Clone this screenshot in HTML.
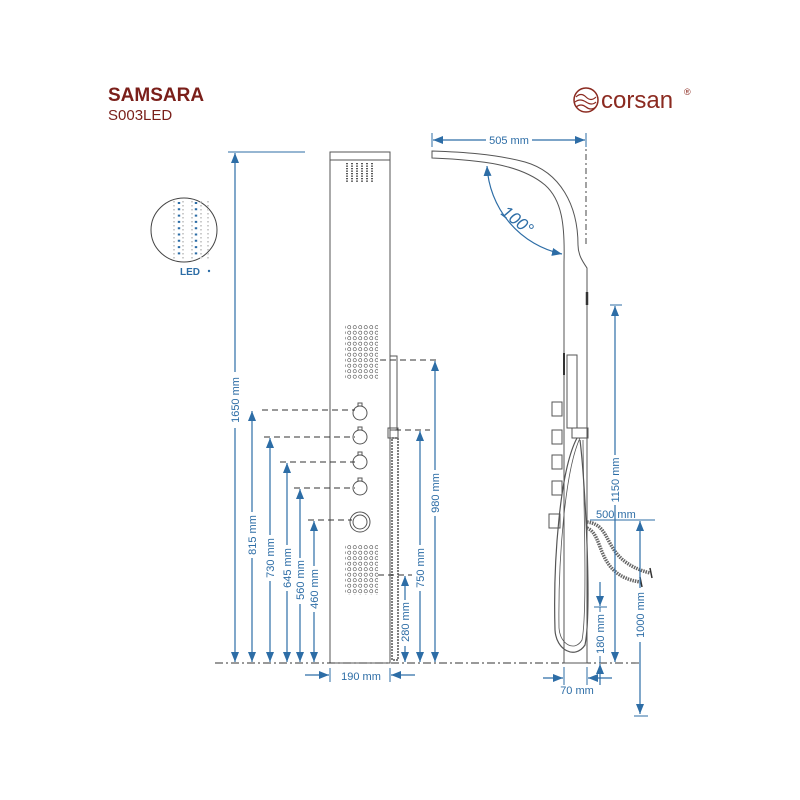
<!DOCTYPE html>
<html><head><meta charset="utf-8"><style>
html,body{margin:0;padding:0;background:#fff;width:800px;height:800px;overflow:hidden}
svg{display:block}
.b{fill:#2d6da6;font-family:"Liberation Sans",sans-serif;font-size:11px}
.dl{stroke:#2d6da6;stroke-width:1.2;fill:none}
.ln{stroke:#555;stroke-width:1;fill:none}
.ds{stroke:#333;stroke-width:0.9;stroke-dasharray:6 4;fill:none}
</style></head><body>
<svg width="800" height="800" viewBox="0 0 800 800" xmlns="http://www.w3.org/2000/svg">
<defs>
<marker id="a" viewBox="0 0 10 10" refX="10" refY="5" markerWidth="10" markerHeight="10" orient="auto-start-reverse" markerUnits="userSpaceOnUse"><path d="M0,1 L10,5 L0,9 z" fill="#2d6da6"/></marker>
<pattern id="dots" width="5.5" height="5.5" patternUnits="userSpaceOnUse"><circle cx="2.7" cy="2.7" r="1.6" fill="none" stroke="#555" stroke-width="0.6"/></pattern>
<pattern id="slots" width="5" height="2.5" patternUnits="userSpaceOnUse"><rect x="1" y="0.5" width="2" height="1.3" fill="#555"/></pattern>
</defs>

<!-- header -->
<text x="108" y="101" font-family="Liberation Sans,sans-serif" font-weight="bold" font-size="19" fill="#7a1f1a">SAMSARA</text>
<text x="108" y="120" font-family="Liberation Sans,sans-serif" font-size="15" fill="#7a1f1a">S003LED</text>
<circle cx="586" cy="100" r="12" fill="none" stroke="#8b2a20" stroke-width="1.5"/>
<path d="M576,97 q5,-5 10,0 t10,0 M575,102 q5,-4 11,0 t10,0 M576,107 q5,-4 10,0 t10,0" stroke="#8b2a20" stroke-width="1.2" fill="none"/>
<text x="601" y="108" font-family="Liberation Sans,sans-serif" font-size="24" fill="#8b2a20">corsan</text>
<text x="684" y="95" font-family="Liberation Sans,sans-serif" font-size="9" fill="#8b2a20">®</text>

<!-- LED circle -->
<ellipse cx="184" cy="230" rx="33" ry="32" fill="none" stroke="#444" stroke-width="1"/>
<g>
<path d="M174,201v58" stroke="#ccc" stroke-width="2" stroke-dasharray="1.5 2.5"/>
<path d="M183,201v58" stroke="#ccc" stroke-width="2" stroke-dasharray="1.5 2.5"/>
<path d="M192,201v58" stroke="#ccc" stroke-width="2" stroke-dasharray="1.5 2.5"/>
<path d="M201,201v58" stroke="#ccc" stroke-width="2" stroke-dasharray="1.5 2.5"/>
<path d="M208,201v58" stroke="#ccc" stroke-width="2" stroke-dasharray="1.5 2.5"/>
<path d="M179,202v56" stroke="#2d6da6" stroke-width="2.4" stroke-dasharray="2 4.3"/>
<path d="M196,202v56" stroke="#2d6da6" stroke-width="2.4" stroke-dasharray="2 4.3"/>
</g>
<text x="180" y="275" class="b" font-weight="bold" style="font-size:10px">LED</text>
<circle cx="209" cy="271" r="1.2" fill="#2d6da6"/>

<!-- front panel -->
<rect x="330" y="152" width="60" height="511" fill="#fff" stroke="#555" stroke-width="1"/>
<line x1="330" y1="160" x2="390" y2="160" class="ln"/>
<rect x="346" y="163" width="27" height="20" fill="url(#slots)"/>
<rect x="345" y="325" width="33" height="55" fill="url(#dots)"/>
<rect x="345" y="545" width="33" height="50" fill="url(#dots)"/>
<g class="ln">
<circle cx="360" cy="413" r="7"/><rect x="358" y="403" width="4" height="3"/>
<circle cx="360" cy="437" r="7"/><rect x="358" y="427" width="4" height="3"/>
<circle cx="360" cy="462" r="7"/><rect x="358" y="452" width="4" height="3"/>
<circle cx="360" cy="488" r="7"/><rect x="358" y="478" width="4" height="3"/>
<circle cx="360" cy="522" r="10"/><circle cx="360" cy="522" r="7"/>
</g>
<rect x="390" y="356" width="7" height="74" class="ln"/>
<rect x="388" y="428" width="10" height="10" class="ln"/>
<rect x="392" y="438" width="6" height="222" fill="none" stroke="#555" stroke-width="1.5" stroke-dasharray="2 1"/>

<!-- dashed guides front -->
<line x1="215" y1="663" x2="640" y2="663" stroke="#333" stroke-width="0.9" stroke-dasharray="8 3 2 3"/>
<line x1="228" y1="152" x2="305" y2="152" stroke="#2d6da6" stroke-width="1"/>
<line x1="262" y1="410" x2="355" y2="410" class="ds"/>
<line x1="264" y1="437" x2="355" y2="437" class="ds"/>
<line x1="280" y1="462" x2="355" y2="462" class="ds"/>
<line x1="294" y1="488" x2="355" y2="488" class="ds"/>
<line x1="308" y1="520" x2="352" y2="520" class="ds"/>
<line x1="380" y1="360" x2="440" y2="360" class="ds"/>
<line x1="395" y1="430" x2="430" y2="430" class="ds"/>
<line x1="378" y1="575" x2="412" y2="575" class="ds"/>

<!-- front dims -->
<line x1="235" y1="153" x2="235" y2="662" class="dl" marker-start="url(#a)" marker-end="url(#a)"/>
<line x1="252" y1="411" x2="252" y2="662" class="dl" marker-start="url(#a)" marker-end="url(#a)"/>
<line x1="270" y1="438" x2="270" y2="662" class="dl" marker-start="url(#a)" marker-end="url(#a)"/>
<line x1="287" y1="463" x2="287" y2="662" class="dl" marker-start="url(#a)" marker-end="url(#a)"/>
<line x1="300" y1="489" x2="300" y2="662" class="dl" marker-start="url(#a)" marker-end="url(#a)"/>
<line x1="314" y1="521" x2="314" y2="662" class="dl" marker-start="url(#a)" marker-end="url(#a)"/>
<line x1="405" y1="576" x2="405" y2="662" class="dl" marker-start="url(#a)" marker-end="url(#a)"/>
<line x1="420" y1="431" x2="420" y2="662" class="dl" marker-start="url(#a)" marker-end="url(#a)"/>
<line x1="435" y1="361" x2="435" y2="662" class="dl" marker-start="url(#a)" marker-end="url(#a)"/>
<g class="b" text-anchor="middle">
<rect x="229" y="372" width="12" height="56" fill="#fff"/><text transform="translate(239,400) rotate(-90)">1650 mm</text>
<rect x="246" y="512" width="12" height="46" fill="#fff"/><text transform="translate(256,535) rotate(-90)">815 mm</text>
<rect x="264" y="535" width="12" height="46" fill="#fff"/><text transform="translate(274,558) rotate(-90)">730 mm</text>
<rect x="281" y="545" width="12" height="46" fill="#fff"/><text transform="translate(291,568) rotate(-90)">645 mm</text>
<rect x="294" y="558" width="12" height="46" fill="#fff"/><text transform="translate(304,580) rotate(-90)">560 mm</text>
<rect x="308" y="566" width="12" height="46" fill="#fff"/><text transform="translate(318,589) rotate(-90)">460 mm</text>
<rect x="399" y="600" width="12" height="46" fill="#fff"/><text transform="translate(409,622) rotate(-90)">280 mm</text>
<rect x="414" y="545" width="12" height="46" fill="#fff"/><text transform="translate(424,568) rotate(-90)">750 mm</text>
<rect x="429" y="470" width="12" height="46" fill="#fff"/><text transform="translate(439,493) rotate(-90)">980 mm</text>
<text x="361" y="680">190 mm</text>
</g>
<line x1="305" y1="675" x2="329" y2="675" class="dl" marker-end="url(#a)"/>
<line x1="415" y1="675" x2="391" y2="675" class="dl" marker-end="url(#a)"/>
<line x1="330" y1="668" x2="330" y2="682" stroke="#2d6da6"/>
<line x1="390" y1="668" x2="390" y2="682" stroke="#2d6da6"/>

<!-- side view -->
<line x1="586" y1="140" x2="586" y2="245" stroke="#333" stroke-width="0.9" stroke-dasharray="6 3 2 3"/>
<path d="M432,151 L432,158 C480,160 520,164 545,185 C562,200 565,225 564,262 L564,663 L587,663 L587,268 C583,262 578,255 578,245 C578,205 560,172 525,162 C495,154 462,152 432,151 Z" fill="#fff" stroke="#555" stroke-width="1"/>
<line x1="587" y1="292" x2="587" y2="305" stroke="#333" stroke-width="2.5"/>
<g class="ln">
<rect x="552" y="402" width="10" height="14"/><rect x="552" y="430" width="10" height="14"/><rect x="552" y="455" width="10" height="14"/><rect x="552" y="481" width="10" height="14"/><rect x="549" y="514" width="11" height="14"/>
<rect x="567" y="355" width="10" height="73"/>
<rect x="572" y="428" width="16" height="10"/>
<path d="M577,438 C560,470 553,560 555,630 C556,650 575,660 585,645 C592,610 585,480 580,440" stroke-width="1.2"/>
<path d="M580,438 C565,470 558,560 559,628 C560,645 575,652 582,640 C588,610 583,480 583,440" stroke-width="0.8"/>
</g>
<line x1="564" y1="353" x2="564" y2="375" stroke="#333" stroke-width="2"/>
<path d="M587,522 C615,525 600,560 650,573" fill="none" stroke="#666" stroke-width="3.5" stroke-dasharray="1.5 1"/>
<path d="M587,528 C605,535 595,575 640,582" fill="none" stroke="#666" stroke-width="3.5" stroke-dasharray="1.5 1"/>
<line x1="650" y1="568" x2="652" y2="578" stroke="#333" stroke-width="1.5"/>
<line x1="640" y1="577" x2="642" y2="587" stroke="#333" stroke-width="1.5"/>

<!-- side dims -->
<line x1="433" y1="140" x2="585" y2="140" class="dl" marker-start="url(#a)" marker-end="url(#a)"/>
<line x1="432" y1="133" x2="432" y2="147" stroke="#2d6da6"/>
<line x1="586" y1="133" x2="586" y2="147" stroke="#2d6da6"/>
<rect x="486" y="133" width="46" height="14" fill="#fff"/>
<text x="509" y="144" class="b" text-anchor="middle">505 mm</text>
<path d="M487,166 A95,95 0 0 0 562,254" class="dl" marker-start="url(#a)" marker-end="url(#a)"/>
<text transform="translate(500,214) rotate(38)" class="b" style="font-size:17px;font-style:italic">100°</text>
<line x1="615" y1="306" x2="615" y2="662" class="dl" marker-start="url(#a)" marker-end="url(#a)"/>
<line x1="610" y1="305" x2="622" y2="305" stroke="#2d6da6"/>
<rect x="609" y="455" width="12" height="50" fill="#fff"/>
<text transform="translate(619,480) rotate(-90)" class="b" text-anchor="middle">1150 mm</text>
<line x1="590" y1="520" x2="655" y2="520" stroke="#2d6da6" stroke-width="1"/>
<text x="596" y="518" class="b">500 mm</text>
<line x1="640" y1="521" x2="640" y2="714" class="dl" marker-start="url(#a)" marker-end="url(#a)"/>
<line x1="634" y1="716" x2="648" y2="716" stroke="#2d6da6"/>
<rect x="634" y="588" width="12" height="54" fill="#fff"/>
<text transform="translate(644,615) rotate(-90)" class="b" text-anchor="middle">1000 mm</text>
<line x1="600" y1="582" x2="600" y2="606" class="dl" marker-end="url(#a)"/>
<line x1="594" y1="607" x2="607" y2="607" stroke="#2d6da6"/>
<line x1="600" y1="685" x2="600" y2="664" class="dl" marker-end="url(#a)"/>
<line x1="600" y1="607" x2="600" y2="663" stroke="#2d6da6" stroke-width="1"/>
<rect x="594" y="612" width="12" height="44" fill="#fff"/>
<text transform="translate(604,634) rotate(-90)" class="b" text-anchor="middle">180 mm</text>
<line x1="543" y1="678" x2="563" y2="678" class="dl" marker-end="url(#a)"/>
<line x1="612" y1="678" x2="588" y2="678" class="dl" marker-end="url(#a)"/>
<line x1="564" y1="667" x2="564" y2="685" stroke="#2d6da6"/>
<line x1="587" y1="667" x2="587" y2="685" stroke="#2d6da6"/>
<text x="577" y="694" class="b" text-anchor="middle">70 mm</text>
</svg>
</body></html>
